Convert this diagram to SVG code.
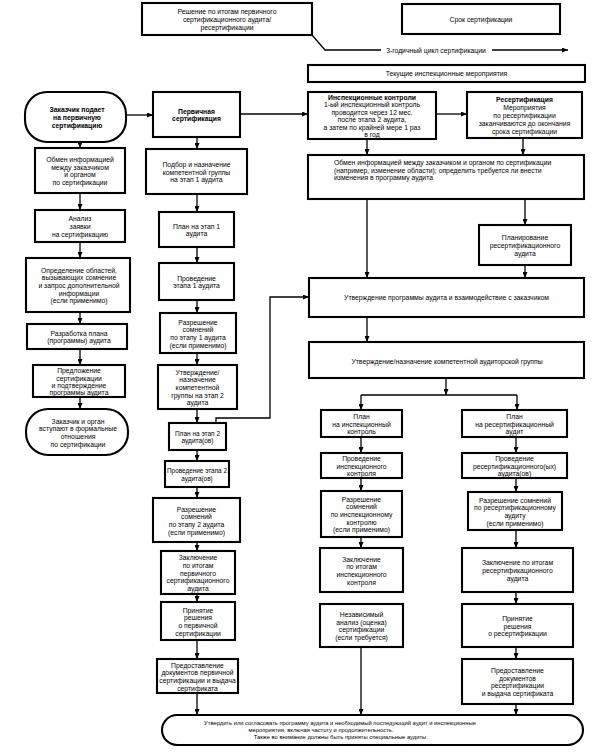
<svg xmlns="http://www.w3.org/2000/svg" width="598" height="756" viewBox="0 0 598 756">
<style>
.b{fill:#fff;stroke:#000;stroke-width:2.1}
.t{font-family:"Liberation Sans",Arial,sans-serif;font-size:6.8px;text-anchor:middle;dominant-baseline:central;fill:#000}
.bd{font-weight:bold}
.c{fill:none;stroke:#000;stroke-width:1.3}
.a{marker-end:url(#ah)}
</style>
<defs>
<marker id="ah" viewBox="0 0 6 5" refX="6" refY="2.5" markerWidth="6" markerHeight="5" markerUnits="userSpaceOnUse" orient="auto"><path d="M0,0 L6,2.5 L0,5 z" fill="#000"/></marker>
</defs>
<rect width="598" height="756" fill="#fff"/>

<g id="connectors">
<path class="c" d="M312,35 L325,50 H381"/>
<path class="c a" d="M492,50 H568"/>
<path class="c a" d="M126,115 H153"/>
<path class="c a" d="M240,114 H308"/>
<path class="c a" d="M436,114 H467"/>
<path class="c a" d="M367,139 V155"/>
<path class="c a" d="M523,138 V155"/>
<path class="c a" d="M367,199 V278"/>
<path class="c a" d="M525,199 V225"/>
<path class="c a" d="M525,265 V278"/>
<path class="c a" d="M216,423 V418 H270 V297 H309"/>
<path class="c a" d="M367,317 V342"/>
<path class="c a" d="M446,378 V395"/>
<path class="c" d="M361,395 H517"/>
<path class="c a" d="M361,395 V410"/>
<path class="c a" d="M517,395 V410"/>
<path class="c a" d="M80,142 V148"/>
<path class="c a" d="M80,193 V210"/>
<path class="c a" d="M80,242 V258"/>
<path class="c a" d="M80,312 V324"/>
<path class="c a" d="M80,349 V365"/>
<path class="c a" d="M80,397 V409"/>
<path class="c a" d="M197,137 V149"/>
<path class="c a" d="M197,194 V212"/>
<path class="c a" d="M197,247 V263"/>
<path class="c a" d="M197,300 V313"/>
<path class="c a" d="M197,353 V365"/>
<path class="c a" d="M197,409 V423"/>
<path class="c a" d="M197,450 V461"/>
<path class="c a" d="M197,487 V498"/>
<path class="c a" d="M197,542 V551"/>
<path class="c a" d="M197,594 V602"/>
<path class="c a" d="M197,640 V659"/>
<path class="c a" d="M197,693 V715"/>
<path class="c a" d="M361,437 V453"/>
<path class="c a" d="M361,478 V491"/>
<path class="c a" d="M361,537 V548"/>
<path class="c a" d="M361,647 V715"/>
<path class="c a" d="M516,437 V453"/>
<path class="c a" d="M516,478 V492"/>
<path class="c a" d="M516,530 V548"/>
<path class="c a" d="M516,592 V604"/>
<path class="c a" d="M516,647 V659"/>
<path class="c a" d="M516,704 V715"/>
<text class="t" x="436" y="50">3-годичный цикл сертификации</text>
</g>

<g id="n_decision">
<rect class="b" x="142" y="3" width="170" height="32"/>
<text class="t" x="227" y="11.3"><tspan x="227">Решение по итогам первичного</tspan><tspan x="227" dy="7.7">сертификационного аудита/</tspan><tspan x="227" dy="7.7">ресертификации</tspan></text>
</g>
<g id="n_term">
<rect class="b" x="402" y="4" width="158" height="30"/>
<text class="t" x="481" y="19">Срок сертификации</text>
</g>
<g id="n_current">
<rect class="b" x="308" y="65" width="277" height="17"/>
<text class="t" x="446.5" y="73.5">Текущие инспекционные мероприятия</text>
</g>

<g id="n_l1">
<rect class="b" x="25" y="92" width="101" height="50" rx="22"/>
<text class="t bd" x="77" y="109.3"><tspan x="77">Заказчик подает</tspan><tspan x="77" dy="7.7">на первичную</tspan><tspan x="77" dy="7.7">сертификацию</tspan></text>
</g>
<g id="n_l2">
<rect class="b" x="35" y="148" width="90" height="45"/>
<text class="t" x="80" y="159"><tspan x="80">Обмен информацией</tspan><tspan x="80" dy="7.7">между заказчиком</tspan><tspan x="80" dy="7.7">и органом</tspan><tspan x="80" dy="7.7">по сертификации</tspan></text>
</g>
<g id="n_l3">
<rect class="b" x="35" y="210" width="90" height="32"/>
<text class="t" x="80" y="218.3"><tspan x="80">Анализ</tspan><tspan x="80" dy="7.7">заявки</tspan><tspan x="80" dy="7.7">на сертификацию</tspan></text>
</g>
<g id="n_l4">
<rect class="b" x="26" y="258" width="104" height="54"/>
<text class="t" x="79" y="269.6"><tspan x="79">Определение областей,</tspan><tspan x="79" dy="7.7">вызывающих сомнение</tspan><tspan x="79" dy="7.7">и запрос дополнительной</tspan><tspan x="79" dy="7.7">информации</tspan><tspan x="79" dy="7.7">(если применимо)</tspan></text>
</g>
<g id="n_l5">
<rect class="b" x="27" y="324" width="100" height="25"/>
<text class="t" x="79" y="332.7"><tspan x="79">Разработка плана</tspan><tspan x="79" dy="7.7">(программы) аудита</tspan></text>
</g>
<g id="n_l6">
<rect class="b" x="33" y="365" width="92" height="32"/>
<text class="t" x="79" y="370.4"><tspan x="79">Предложение</tspan><tspan x="79" dy="7.1">сертификации</tspan><tspan x="79" dy="7.1">и подтверждение</tspan><tspan x="79" dy="7.1">программы аудита</tspan></text>
</g>
<g id="n_l7">
<rect class="b" x="26" y="409" width="102" height="46" rx="22"/>
<text class="t" x="78" y="420.5"><tspan x="78">Заказчик и орган</tspan><tspan x="78" dy="7.7">вступают в формальные</tspan><tspan x="78" dy="7.7">отношения</tspan><tspan x="78" dy="7.7">по сертификации</tspan></text>
</g>

<g id="n_c1">
<rect class="b" x="153" y="92" width="87" height="45"/>
<text class="t bd" x="196.5" y="110.7"><tspan x="196.5">Первичная</tspan><tspan x="196.5" dy="7.7">сертификация</tspan></text>
</g>
<g id="n_c2">
<rect class="b" x="146" y="149" width="101" height="45"/>
<text class="t" x="196.5" y="163.8"><tspan x="196.5">Подбор и назначение</tspan><tspan x="196.5" dy="7.7">компетентной группы</tspan><tspan x="196.5" dy="7.7">на этап 1 аудита</tspan></text>
</g>
<g id="n_c3">
<rect class="b" x="159" y="212" width="75" height="35"/>
<text class="t" x="196.5" y="225.7"><tspan x="196.5">План на этап 1</tspan><tspan x="196.5" dy="7.7">аудита</tspan></text>
</g>
<g id="n_c4">
<rect class="b" x="159" y="263" width="75" height="37"/>
<text class="t" x="196.5" y="277.7"><tspan x="196.5">Проведение</tspan><tspan x="196.5" dy="7.7">этапа 1 аудита</tspan></text>
</g>
<g id="n_c5">
<rect class="b" x="160" y="313" width="76" height="40"/>
<text class="t" x="198" y="321.5"><tspan x="198">Разрешение</tspan><tspan x="198" dy="7.7">сомнений</tspan><tspan x="198" dy="7.7">по этапу 1 аудита</tspan><tspan x="198" dy="7.7">(если применимо)</tspan></text>
</g>
<g id="n_c6">
<rect class="b" x="158" y="365" width="79" height="44"/>
<text class="t" x="197.5" y="371.6"><tspan x="197.5">Утверждение/</tspan><tspan x="197.5" dy="7.7">назначение</tspan><tspan x="197.5" dy="7.7">компетентной</tspan><tspan x="197.5" dy="7.7">группы на этап 2</tspan><tspan x="197.5" dy="7.7">аудита</tspan></text>
</g>
<g id="n_c7">
<rect class="b" x="169" y="423" width="57" height="27"/>
<text class="t" x="197.5" y="432.7" style="font-size:6.5px"><tspan x="197.5">План на этап 2</tspan><tspan x="197.5" dy="7.7">аудита(ов)</tspan></text>
</g>
<g id="n_c8">
<rect class="b" x="165" y="461" width="64" height="26"/>
<text class="t" x="197" y="470.2" style="font-size:6.4px"><tspan x="197">Проведение этапа 2</tspan><tspan x="197" dy="7.7">аудита(ов)</tspan></text>
</g>
<g id="n_c9">
<rect class="b" x="153" y="498" width="87" height="44"/>
<text class="t" x="196.5" y="508.5"><tspan x="196.5">Разрешение</tspan><tspan x="196.5" dy="7.7">сомнений</tspan><tspan x="196.5" dy="7.7">по этапу 2 аудита</tspan><tspan x="196.5" dy="7.7">(если применимо)</tspan></text>
</g>
<g id="n_c10">
<rect class="b" x="161" y="551" width="74" height="43"/>
<text class="t" x="198" y="557.1"><tspan x="198">Заключение</tspan><tspan x="198" dy="7.7">по итогам</tspan><tspan x="198" dy="7.7">первичного</tspan><tspan x="198" dy="7.7">сертификационного</tspan><tspan x="198" dy="7.7">аудита</tspan></text>
</g>
<g id="n_c11">
<rect class="b" x="161" y="602" width="74" height="38"/>
<text class="t" x="198" y="609.5"><tspan x="198">Принятие</tspan><tspan x="198" dy="7.7">решения</tspan><tspan x="198" dy="7.7">о первичной</tspan><tspan x="198" dy="7.7">сертификации</tspan></text>
</g>
<g id="n_c12">
<rect class="b" x="157" y="659" width="81" height="34"/>
<text class="t" x="197.5" y="664.5"><tspan x="197.5">Предоставление</tspan><tspan x="197.5" dy="7.7">документов первичной</tspan><tspan x="197.5" dy="7.7">сертификации и выдача</tspan><tspan x="197.5" dy="7.7">сертификата</tspan></text>
</g>

<g id="n_insp">
<rect class="b" x="308" y="92" width="128" height="47"/>
<text class="t" x="372" y="96.5"><tspan x="372" class="bd">Инспекционные контроли</tspan><tspan x="372" dy="7.5">1-ый инспекционный контроль</tspan><tspan x="372" dy="7.5">проводится через 12 мес.</tspan><tspan x="372" dy="7.5">после этапа 2 аудита,</tspan><tspan x="372" dy="7.5">а затем по крайней мере 1 раз</tspan><tspan x="372" dy="7.5">в год</tspan></text>
</g>
<g id="n_recert">
<rect class="b" x="467" y="92" width="115" height="46"/>
<text class="t" x="524.5" y="99.2"><tspan x="524.5" class="bd">Ресертификация</tspan><tspan x="524.5" dy="7.9">Мероприятия</tspan><tspan x="524.5" dy="7.9">по ресертификации</tspan><tspan x="524.5" dy="7.9">заканчиваются до окончания</tspan><tspan x="524.5" dy="7.9">срока сертификации</tspan></text>
</g>
<g id="n_exchange">
<rect class="b" x="308" y="155" width="276" height="44"/>
<text class="t" x="334" y="162" style="text-anchor:start"><tspan x="334">Обмен информацией между заказчиком и органом по сертификации</tspan><tspan x="334" dy="7.7">(например, изменение области); определить требуется ли внести</tspan><tspan x="334" dy="7.7">изменения в программу аудита</tspan></text>
</g>
<g id="n_planrecert">
<rect class="b" x="479" y="225" width="92" height="40"/>
<text class="t" x="525" y="237.3"><tspan x="525">Планирование</tspan><tspan x="525" dy="7.7">ресертификационного</tspan><tspan x="525" dy="7.7">аудита</tspan></text>
</g>
<g id="n_approve">
<rect class="b" x="309" y="278" width="275" height="39"/>
<text class="t" x="446.5" y="297.5">Утверждение программы аудита и взаимодействие с заказчиком</text>
</g>
<g id="n_team">
<rect class="b" x="309" y="342" width="275" height="36"/>
<text class="t" x="447" y="361">Утверждение/назначение компетентной аудиторской группы</text>
</g>

<g id="n_i1">
<rect class="b" x="321" y="410" width="81" height="27"/>
<text class="t" x="361.5" y="415.8"><tspan x="361.5">План</tspan><tspan x="361.5" dy="7.7">на инспекционный</tspan><tspan x="361.5" dy="7.7">контроль</tspan></text>
</g>
<g id="n_i2">
<rect class="b" x="321" y="453" width="81" height="25"/>
<text class="t" x="361.5" y="457.8"><tspan x="361.5">Проведение</tspan><tspan x="361.5" dy="7.7">инспекционного</tspan><tspan x="361.5" dy="7.7">контроля</tspan></text>
</g>
<g id="n_i3">
<rect class="b" x="321" y="491" width="81" height="46"/>
<text class="t" x="361.5" y="498.6"><tspan x="361.5">Разрешение</tspan><tspan x="361.5" dy="7.7">сомнений</tspan><tspan x="361.5" dy="7.7">по инспекционному</tspan><tspan x="361.5" dy="7.7">контролю</tspan><tspan x="361.5" dy="7.7">(если применимо)</tspan></text>
</g>
<g id="n_i4">
<rect class="b" x="320" y="548" width="83" height="44"/>
<text class="t" x="361.5" y="558.5"><tspan x="361.5">Заключение</tspan><tspan x="361.5" dy="7.7">по итогам</tspan><tspan x="361.5" dy="7.7">инспекционного</tspan><tspan x="361.5" dy="7.7">контроля</tspan></text>
</g>
<g id="n_i5">
<rect class="b" x="320" y="604" width="83" height="43"/>
<text class="t" x="361.5" y="614"><tspan x="361.5">Независимый</tspan><tspan x="361.5" dy="7.7">анализ (оценка)</tspan><tspan x="361.5" dy="7.7">сертификации</tspan><tspan x="361.5" dy="7.7">(если требуется)</tspan></text>
</g>

<g id="n_r1">
<rect class="b" x="462" y="410" width="105" height="27"/>
<text class="t" x="514.5" y="415.8"><tspan x="514.5">План</tspan><tspan x="514.5" dy="7.7">на ресертификационный</tspan><tspan x="514.5" dy="7.7">аудит</tspan></text>
</g>
<g id="n_r2">
<rect class="b" x="462" y="453" width="105" height="25"/>
<text class="t" x="514.5" y="457.8"><tspan x="514.5">Проведение</tspan><tspan x="514.5" dy="7.7">ресертификационного(ых)</tspan><tspan x="514.5" dy="7.7">аудита(ов)</tspan></text>
</g>
<g id="n_r3">
<rect class="b" x="468" y="492" width="94" height="38"/>
<text class="t" x="515" y="499.5"><tspan x="515">Разрешение сомнений</tspan><tspan x="515" dy="7.7">по ресертификационному</tspan><tspan x="515" dy="7.7">аудиту</tspan><tspan x="515" dy="7.7">(если применимо)</tspan></text>
</g>
<g id="n_r4">
<rect class="b" x="462" y="548" width="111" height="44"/>
<text class="t" x="517.5" y="562.3"><tspan x="517.5">Заключение по итогам</tspan><tspan x="517.5" dy="7.7">ресертификационного</tspan><tspan x="517.5" dy="7.7">аудита</tspan></text>
</g>
<g id="n_r5">
<rect class="b" x="462" y="604" width="111" height="43"/>
<text class="t" x="517.5" y="617.8"><tspan x="517.5">Принятие</tspan><tspan x="517.5" dy="7.7">решения</tspan><tspan x="517.5" dy="7.7">о ресертификации</tspan></text>
</g>
<g id="n_r6">
<rect class="b" x="462" y="659" width="111" height="45"/>
<text class="t" x="517.5" y="670"><tspan x="517.5">Предоставление</tspan><tspan x="517.5" dy="7.7">документов</tspan><tspan x="517.5" dy="7.7">ресертификации</tspan><tspan x="517.5" dy="7.7">и выдача сертификата</tspan></text>
</g>

<g id="n_final">
<rect class="b" x="162" y="715" width="421" height="30" rx="15"/>
<text class="t" x="340" y="723" style="font-size:5.8px"><tspan x="340">Утвердить или согласовать программу аудита и необходимый последующий аудит и инспекционные</tspan><tspan x="321" dy="6.8">мероприятия, включая частоту и продолжительность.</tspan><tspan x="340" dy="6.8">Также во внимание должны быть приняты специальные аудиты</tspan></text>
</g>
</svg>
